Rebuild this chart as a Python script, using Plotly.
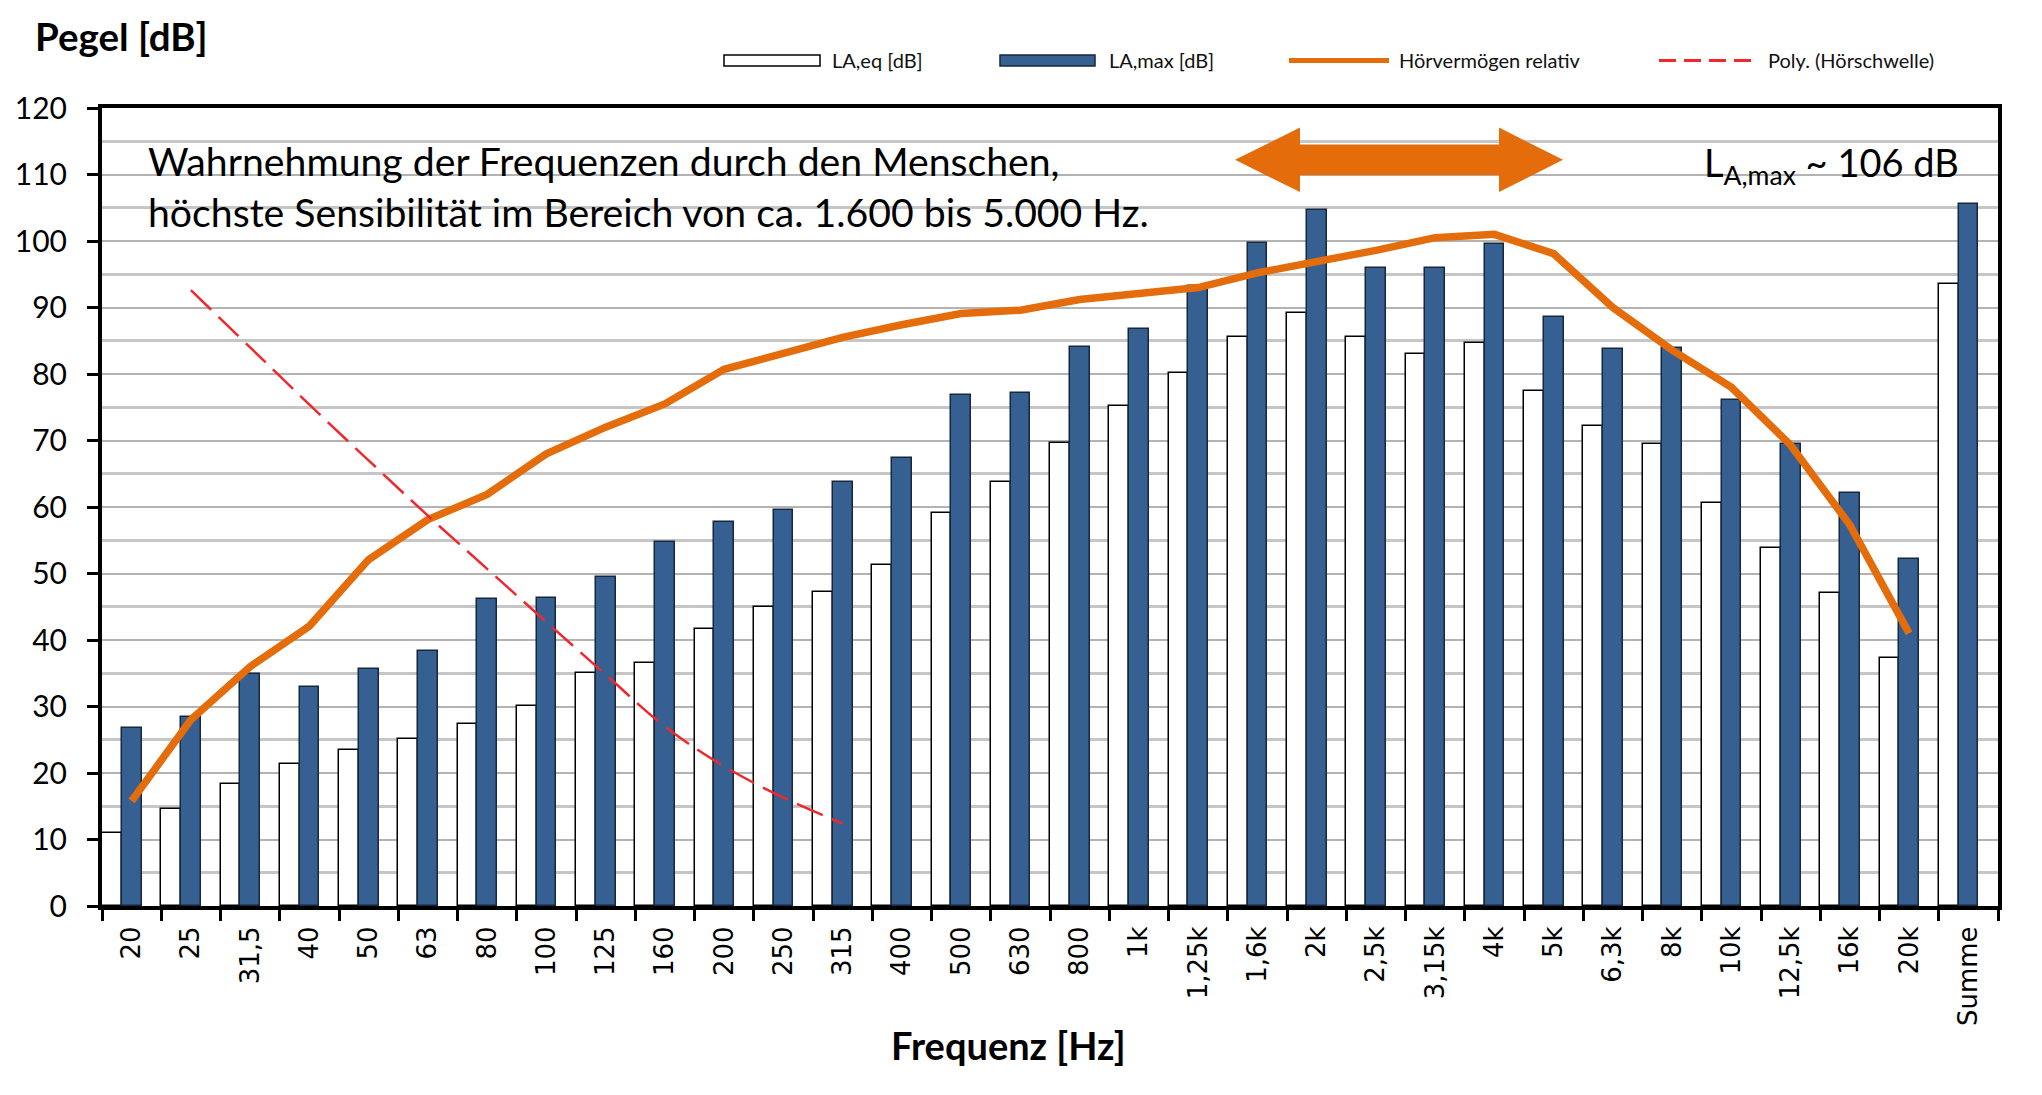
import plotly.graph_objects as go

# ---------------- data ----------------
categories = ["20", "25", "31,5", "40", "50", "63", "80", "100", "125", "160",
              "200", "250", "315", "400", "500", "630", "800", "1k", "1,25k", "1,6k",
              "2k", "2,5k", "3,15k", "4k", "5k", "6,3k", "8k", "10k", "12,5k", "16k",
              "20k", "Summe"]

la_eq = [11.0, 14.6, 18.4, 21.4, 23.5, 25.1, 27.4, 30.1, 35.1, 36.6,
         41.7, 45.0, 47.2, 51.3, 59.1, 63.7, 69.6, 75.2, 80.1, 85.6,
         89.2, 85.6, 83.0, 84.7, 77.5, 72.2, 69.4, 60.6, 53.8, 47.1,
         37.3, 93.5]

la_max = [26.7, 28.4, 34.9, 32.9, 35.7, 38.4, 46.1, 46.3, 49.4, 54.7,
          57.7, 59.5, 63.7, 67.3, 76.9, 77.2, 84.1, 86.8, 93.2, 99.7,
          104.6, 96.0, 96.0, 99.5, 88.5, 83.8, 83.9, 76.1, 69.5, 62.1,
          52.2, 105.6]

hoer_cats = categories[:31]
hoervermoegen = [15.8, 28.0, 36.0, 42.1, 52.1, 58.1, 61.9, 68.0, 72.0, 75.5,
                 80.7, 83.2, 85.5, 87.4, 89.1, 89.6, 91.2, 92.1, 93.0, 95.2,
                 96.8, 98.6, 100.5, 101.0, 98.1, 90.0, 83.6, 78.0, 69.3, 57.3,
                 41.0]

schwelle_cats = categories[1:13]
hoerschwelle = [92.6, 84.0, 75.4, 67.0, 58.7, 50.7, 42.7, 34.8, 27.0, 21.0, 16.3, 12.4]

y_ticks = [0, 10, 20, 30, 40, 50, 60, 70, 80, 90, 100, 110, 120]

legend_names = ["LA,eq [dB]", "LA,max [dB]", "Hörvermögen relativ", "Poly. (Hörschwelle)"]

# ---------------- style ----------------
W, H = 2042, 1095
L, R, T, B = 102, 1998, 108, 906
def px(x):
    return (x - L) / (R - L)
def py(y):
    return (B - y) / (B - T)

FONT = "Lato, 'Open Sans', sans-serif"
TICKFONT_X = "'DejaVu Sans', Verdana, sans-serif"
BLUE = "#376092"
BLUE_LINE = "#17273c"
ORANGE = "#E46C0A"
RED = "#F0282D"

fig = go.Figure()

fig.add_trace(go.Bar(x=categories, y=la_eq, name=legend_names[0],
                     marker=dict(color="white", line=dict(color="black", width=1.5)),
                     width=1/3, offset=-0.5, showlegend=False))
fig.add_trace(go.Bar(x=categories, y=la_max, name=legend_names[1],
                     marker=dict(color=BLUE, line=dict(color=BLUE_LINE, width=1.5)),
                     width=1/3, offset=-1/6, showlegend=False))
fig.add_trace(go.Scatter(x=hoer_cats, y=hoervermoegen, name=legend_names[2], mode="lines",
                         line=dict(color=ORANGE, width=7.5), showlegend=False))
fig.add_trace(go.Scatter(x=schwelle_cats, y=hoerschwelle, name=legend_names[3], mode="lines",
                         line=dict(color=RED, width=2.5, dash="28px,10px", shape="spline"),
                         showlegend=False))

shapes = []
# white boxes behind text (cover gridlines)
shapes.append(dict(type="rect", xref="paper", yref="y", x0=px(117), x1=px(1223), y0=97.5, y1=119.6,
                   fillcolor="white", line=dict(width=0), layer="between"))
shapes.append(dict(type="rect", xref="paper", yref="y", x0=px(1672), x1=px(1988), y0=107.5, y1=119.6,
                   fillcolor="white", line=dict(width=0), layer="between"))

# double arrow
tl, bl, br, tr = px(1235), px(1300), px(1499), px(1563)
yc, sh, hh = 112.2, 2.3, 4.85
path = (f"M {tl},{yc} L {bl},{yc+hh} L {bl},{yc+sh} L {br},{yc+sh} L {br},{yc+hh} "
        f"L {tr},{yc} L {br},{yc-hh} L {br},{yc-sh} L {bl},{yc-sh} L {bl},{yc-hh} Z")
shapes.append(dict(type="path", xref="paper", yref="y", path=path,
                   fillcolor=ORANGE, line=dict(width=0), layer="above"))

# custom legend
ly = py(60.5)
shapes.append(dict(type="rect", xref="paper", yref="paper", x0=px(724), x1=px(820),
                   y0=py(66), y1=py(55), fillcolor="white", line=dict(color="black", width=1.5)))
shapes.append(dict(type="rect", xref="paper", yref="paper", x0=px(1000), x1=px(1095),
                   y0=py(66), y1=py(55), fillcolor=BLUE, line=dict(color=BLUE_LINE, width=1.5)))
shapes.append(dict(type="line", xref="paper", yref="paper", x0=px(1289), x1=px(1389),
                   y0=ly, y1=ly, line=dict(color=ORANGE, width=5)))
shapes.append(dict(type="line", xref="paper", yref="paper", x0=px(1659), x1=px(1757),
                   y0=ly, y1=ly, line=dict(color=RED, width=3, dash="17px,8px")))

annotations = []
for x_left, name in zip([830, 1107, 1397, 1766], legend_names):
    annotations.append(dict(xref="paper", yref="paper", x=px(x_left), y=ly, text=name,
                            showarrow=False, xanchor="left", yanchor="middle",
                            font=dict(family=FONT, size=20, color="#111111")))

annotations.append(dict(xref="paper", yref="paper", x=px(33), y=py(36), text="<b>Pegel [dB]</b>",
                        showarrow=False, xanchor="left", yanchor="middle",
                        font=dict(family=FONT, size=38.5, color="black")))
annotations.append(dict(xref="paper", yref="paper", x=px(1008), y=py(1045), text="<b>Frequenz [Hz]</b>",
                        showarrow=False, xanchor="center", yanchor="middle",
                        font=dict(family=FONT, size=38, color="black")))
annotations.append(dict(xref="paper", yref="paper", x=px(146), y=py(186),
                        text="Wahrnehmung der Frequenzen durch den Menschen,<br>"
                             "höchste Sensibilität im Bereich von ca. 1.600 bis 5.000 Hz.",
                        showarrow=False, xanchor="left", yanchor="middle", align="left",
                        font=dict(family=FONT, size=39.2, color="black")))
annotations.append(dict(xref="paper", yref="paper", x=px(1702), y=py(165),
                        text="L<sub>A,max</sub> ~ 106 dB",
                        showarrow=False, xanchor="left", yanchor="middle",
                        font=dict(family=FONT, size=38, color="black")))

fig.update_layout(
    width=W, height=H,
    margin=dict(l=L, r=W - R, t=T, b=H - B, pad=0),
    paper_bgcolor="white", plot_bgcolor="white",
    shapes=shapes, annotations=annotations,
    showlegend=False,
    bargap=0, bargroupgap=0,
    xaxis=dict(type="category", categoryorder="array", categoryarray=categories,
               range=[-0.5, len(categories) - 0.5],
               showline=True, linecolor="black", linewidth=4, mirror=True,
               ticks="outside", tickson="boundaries", ticklen=11, tickwidth=3, tickcolor="black",
               tickangle=-90, tickfont=dict(family=TICKFONT_X, size=26, color="black"),
               ticklabelstandoff=6,
               showgrid=False, zeroline=False, fixedrange=True),
    yaxis=dict(range=[0, 120], tickmode="array", tickvals=y_ticks,
               showline=True, linecolor="black", linewidth=4, mirror=True,
               ticks="outside", ticklen=11, tickwidth=3, tickcolor="black",
               tickfont=dict(family=FONT, size=30, color="black"),
               ticklabelstandoff=14,
               showgrid=True, gridcolor="#b3b3b3", gridwidth=2,
               minor=dict(tickmode="array", tickvals=[5, 15, 25, 35, 45, 55, 65, 75, 85, 95, 105, 115],
                          showgrid=True, gridcolor="#c6c6c6", gridwidth=3, ticks=""),
               zeroline=False, fixedrange=True),
)

fig.write_html("out.html")
